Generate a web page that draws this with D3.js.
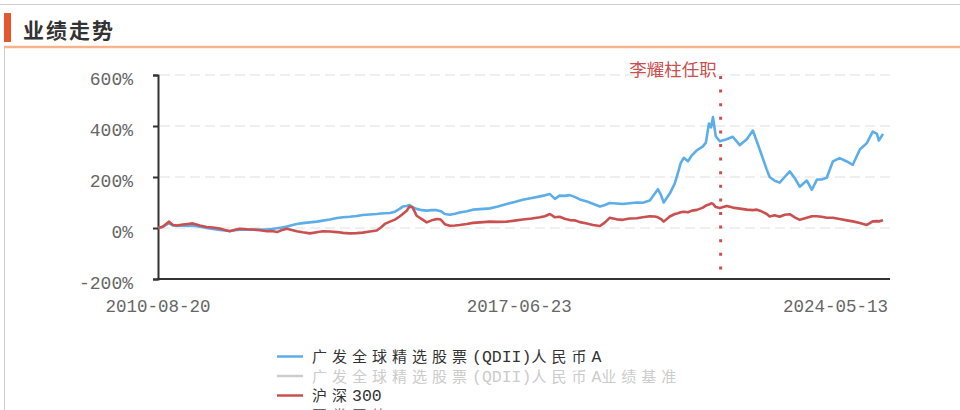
<!DOCTYPE html>
<html>
<head>
<meta charset="utf-8">
<script src="https://cdn.jsdelivr.net/npm/d3@7"></script>
<style>
  body { margin: 0; background: #fff; }
  svg { display: block; }
</style>
</head>
<body>
<div id="vis"></div>
<script>
var width = 960, height = 410;

// data (cumulative return, %)
var dates = [
  "2010-08-20","2010-09-22","2010-11-03","2010-12-01","2010-12-28","2011-02-09","2011-03-13","2011-04-17",
  "2011-06-05","2011-07-23","2011-09-04","2011-10-21","2011-11-25","2011-12-29","2012-02-04","2012-03-08",
  "2012-04-25","2012-06-06","2012-07-24","2012-09-12","2012-10-16","2012-11-20","2012-12-24","2013-01-28",
  "2013-03-02","2013-04-06","2013-05-17","2013-07-05","2013-08-22","2013-10-03","2013-11-21","2014-01-09",
  "2014-02-20","2014-04-07","2014-05-25","2014-07-06","2014-08-24","2014-10-11","2014-11-09","2014-12-06",
  "2015-01-10","2015-02-14","2015-03-18","2015-04-09","2015-05-06","2015-05-26","2015-06-17","2015-07-14",
  "2015-08-19","2015-09-22","2015-10-26","2015-12-01","2015-12-28","2016-01-25","2016-02-29","2016-04-04",
  "2016-05-07","2016-06-25","2016-08-06","2016-09-24","2016-12-02","2017-01-26","2017-03-28","2017-05-22",
  "2017-07-17","2017-09-18","2017-11-13","2017-12-17","2018-01-21","2018-02-25","2018-03-29","2018-05-03",
  "2018-06-07","2018-07-11","2018-08-16","2018-10-04","2018-11-14","2019-01-02","2019-02-06","2019-03-10",
  "2019-04-28","2019-06-09","2019-07-26","2019-09-14","2019-10-25","2019-12-13","2020-01-17","2020-02-07",
  "2020-02-28","2020-03-18","2020-04-29","2020-06-03","2020-06-24","2020-07-14","2020-08-04","2020-09-02",
  "2020-09-29","2020-11-03","2020-12-14","2021-01-04","2021-01-25","2021-02-09","2021-02-22","2021-03-13",
  "2021-04-10","2021-05-28","2021-07-09","2021-08-26","2021-10-14","2021-11-25","2021-12-22","2022-01-13",
  "2022-02-03","2022-03-01","2022-03-21","2022-04-25","2022-05-29","2022-07-03","2022-08-07","2022-09-11",
  "2022-10-15","2022-12-03","2023-01-07","2023-02-11","2023-03-16","2023-04-20","2023-06-01","2023-07-18",
  "2023-09-06","2023-10-17","2023-12-05","2024-01-22","2024-03-03","2024-04-01","2024-04-14","2024-05-13"
];

var fundValues = [
  0, 5, 18, 10, 9, 9, 8, 10,
  5, 0, -4, -8, -10, -12, -9, -7,
  -6, -7, -6, -6, -4, -1, 2, 6,
  11, 16, 19, 22, 25, 29, 33, 39,
  42, 44, 47, 51, 53, 55, 57, 58,
  59, 64, 75, 84, 86, 90, 82, 75,
  70, 68, 70, 70, 66, 55, 52, 56,
  61, 66, 72, 74, 77, 84, 94, 102,
  111, 118, 124, 128, 133, 114, 127, 126,
  129, 122, 112, 104, 95, 84, 90, 98,
  96, 94, 97, 100, 99, 108, 135, 152,
  130, 100, 135, 175, 215, 255, 275, 262,
  285, 305, 320, 335, 410, 395, 435, 360,
  340, 348, 358, 325, 348, 382, 340, 305,
  271, 229, 200, 185, 178, 200, 222, 195,
  162, 186, 150, 190, 190, 197, 261, 274,
  261, 248, 308, 333, 378, 369, 343, 369
];

var hs300Values = [
  0, 5, 25, 12, 10, 14, 16, 18,
  10, 4, 2, -2, -8, -13, -7, -3,
  -5, -6, -9, -13, -12, -16, -8, -3,
  -8, -13, -17, -21, -17, -13, -14, -16,
  -19, -21, -20, -18, -14, -10, 2, 16,
  25, 33, 45, 55, 68, 84, 80, 48,
  35, 22, 30, 35, 33, 15, 9, 10,
  12, 16, 20, 22, 25, 24, 25, 29,
  33, 37, 42, 46, 55, 42, 44, 36,
  31, 30, 23, 18, 12, 8, 22, 40,
  34, 32, 37, 38, 42, 46, 45, 42,
  35, 25, 45, 55, 58, 62, 64, 62,
  68, 71, 80, 88, 92, 97, 95, 82,
  78, 86, 80, 76, 72, 70, 72, 68,
  62, 55, 45, 50, 44, 52, 54, 42,
  32, 40, 46, 46, 44, 40, 40, 35,
  30, 26, 20, 12, 26, 27, 26, 30
];

var yTicks = [-200, 0, 200, 400, 600];
var xTickDates = ["2010-08-20", "2017-06-23", "2024-05-13"];
var managerDate = "2021-04-16";
var managerLabel = "李耀柱任职";

var legendNames = [
  "广发全球精选股票(QDII)人民币A",
  "广发全球精选股票(QDII)人民币A业绩基准",
  "沪深300",
  "同类平均"
];
var legendColors = ["#5dade8", "#cccccc", "#c9504f", "#bbbbbb"];
var legendTextColors = ["#333333", "#cccccc", "#333333", "#666666"];

var blue = "#5dade8", red = "#c9504f";
var monoFont = "Liberation Mono";

var parse = d3.timeParse("%Y-%m-%d");

var svg = d3.select("#vis").append("svg")
  .attr("width", width)
  .attr("height", height);

// frame + header
svg.append("line").attr("x1", 0).attr("x2", width).attr("y1", 4.5).attr("y2", 4.5)
  .attr("stroke", "#cfcfcf").attr("stroke-width", 1);
svg.append("line").attr("x1", 4.5).attr("x2", 4.5).attr("y1", 47).attr("y2", height)
  .attr("stroke", "#cfcfcf").attr("stroke-width", 1);
svg.append("rect").attr("x", 4).attr("y", 13).attr("width", 7).attr("height", 29)
  .attr("fill", "#e4572e");
svg.append("line").attr("x1", 4).attr("x2", width).attr("y1", 47).attr("y2", 47)
  .attr("stroke", "#f8b28c").attr("stroke-width", 2.5);
svg.append("text")
  .attr("x", 23).attr("y", 38)
  .attr("font-family", "Noto Sans CJK SC")
  .attr("font-size", "21px")
  .attr("font-weight", "bold")
  .attr("letter-spacing", "2px")
  .attr("fill", "#333")
  .text("业绩走势");

// scales
var x = d3.scaleTime()
  .domain([parse(dates[0]), parse(dates[dates.length - 1])])
  .range([158, 883]);
var y = d3.scaleLinear().domain([-200, 600]).range([279, 75]);
var axisRight = 890;

// dashed gridlines
svg.append("g").selectAll("line")
  .data(yTicks.filter(d => d > -200))
  .enter().append("line")
  .attr("x1", 160).attr("x2", axisRight)
  .attr("y1", d => y(d)).attr("y2", d => y(d))
  .attr("stroke", "#e0e0e0")
  .attr("stroke-width", 1.2)
  .attr("stroke-dasharray", "10,5");

// y axis
var yAxis = d3.axisLeft(y).tickValues(yTicks).tickSize(5).tickFormat(d => d + "%");
var gy = svg.append("g").attr("transform", "translate(158,0)").call(yAxis);
gy.select(".domain").attr("stroke", "#333").attr("stroke-width", 2);
gy.selectAll(".tick line").attr("stroke", "#333").attr("stroke-width", 2);
gy.selectAll(".tick text")
  .attr("x", -25).attr("dy", "0.72em").attr("y", -3)
  .attr("font-family", monoFont)
  .attr("font-size", "18px")
  .attr("fill", "#666");

// x axis line
svg.append("line").attr("x1", 157).attr("x2", axisRight).attr("y1", 279).attr("y2", 279)
  .attr("stroke", "#333").attr("stroke-width", 2);

svg.append("g").selectAll("text")
  .data(xTickDates)
  .enter().append("text")
  .attr("x", (d, i) => i === xTickDates.length - 1 ? 888 : x(parse(d)))
  .attr("y", 312)
  .attr("text-anchor", (d, i) => i === xTickDates.length - 1 ? "end" : "middle")
  .attr("font-family", monoFont)
  .attr("font-size", "17.5px")
  .attr("fill", "#666")
  .text(d => d);

// series
var rows = dates.map((d, i) => ({ date: parse(d), fund: fundValues[i], hs: hs300Values[i] }));

var lineFund = d3.line().x(d => x(d.date)).y(d => y(d.fund));
var lineHs = d3.line().x(d => x(d.date)).y(d => y(d.hs));

svg.append("path").datum(rows)
  .attr("d", lineFund)
  .attr("fill", "none")
  .attr("stroke", blue)
  .attr("stroke-width", 2.6)
  .attr("stroke-linejoin", "round");

svg.append("path").datum(rows)
  .attr("d", lineHs)
  .attr("fill", "none")
  .attr("stroke", red)
  .attr("stroke-width", 2.6)
  .attr("stroke-linejoin", "round");

// manager marker
var mx = x(parse(managerDate));
svg.append("line")
  .attr("x1", mx).attr("x2", mx)
  .attr("y1", 76).attr("y2", 270)
  .attr("stroke", "#c9504f")
  .attr("stroke-width", 3)
  .attr("stroke-dasharray", "3,10.6");
svg.append("text")
  .attr("x", mx - 4).attr("y", 76)
  .attr("text-anchor", "end")
  .attr("font-family", "Noto Sans CJK SC")
  .attr("font-size", "17.5px")
  .attr("fill", "#c9504f")
  .text(managerLabel);

// legend (CJK and latin runs get their own spacing)
function runs(s) {
  return s.match(/[\u4e00-\u9fff]+|[^\u4e00-\u9fff]+/g);
}
var legend = svg.append("g").attr("class", "legend");
legendNames.forEach((name, i) => {
  var cy = 356.5 + i * 19.5;
  legend.append("line")
    .attr("x1", 277).attr("x2", 303)
    .attr("y1", cy).attr("y2", cy)
    .attr("stroke", legendColors[i])
    .attr("stroke-width", 2.5);
  var t = legend.append("text")
    .attr("x", 312).attr("y", cy + 5.5)
    .attr("fill", legendTextColors[i]);
  runs(name).forEach(r => {
    var cjk = /[\u4e00-\u9fff]/.test(r);
    t.append("tspan")
      .attr("font-family", cjk ? "Noto Sans CJK SC" : monoFont)
      .attr("font-size", cjk ? "15px" : "16.5px")
      .attr("letter-spacing", cjk ? "5px" : "0px")
      .text(r);
  });
});
</script>
</body>
</html>
